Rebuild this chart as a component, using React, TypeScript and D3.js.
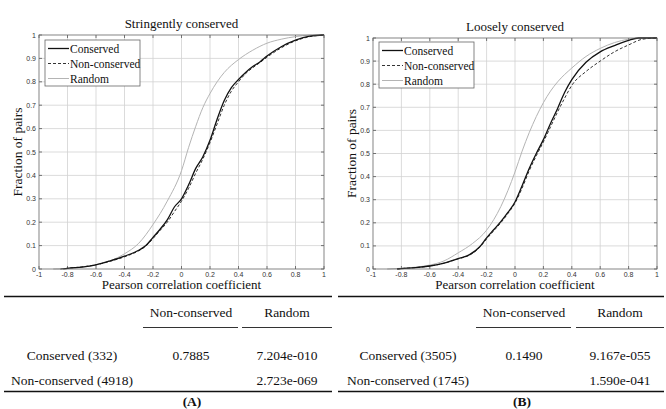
import React from "react";
import * as d3 from "d3";

// ---------- data ----------
const xTicks = [-1, -0.8, -0.6, -0.4, -0.2, 0, 0.2, 0.4, 0.6, 0.8, 1];
const yTicks = [0, 0.1, 0.2, 0.3, 0.4, 0.5, 0.6, 0.7, 0.8, 0.9, 1];
const seriesNames = ["Conserved", "Non-conserved", "Random"];

// Panel A: Stringently conserved
const aConsX = [-0.83, -0.8, -0.7, -0.6, -0.5, -0.4, -0.3, -0.25, -0.2, -0.15, -0.1, -0.05, 0, 0.05, 0.1, 0.15, 0.2, 0.25, 0.3, 0.35, 0.4, 0.45, 0.5, 0.55, 0.6, 0.7, 0.8, 0.9, 1.0];
const aConsY = [0, 0.003, 0.008, 0.018, 0.035, 0.055, 0.08, 0.1, 0.135, 0.17, 0.21, 0.265, 0.3, 0.36, 0.43, 0.48, 0.55, 0.64, 0.72, 0.775, 0.81, 0.84, 0.865, 0.885, 0.91, 0.95, 0.978, 0.995, 1.0];
const aNonX = [-0.85, -0.8, -0.7, -0.6, -0.5, -0.4, -0.3, -0.25, -0.2, -0.15, -0.1, -0.05, 0, 0.05, 0.1, 0.15, 0.2, 0.25, 0.3, 0.35, 0.4, 0.45, 0.5, 0.55, 0.6, 0.7, 0.8, 0.9, 1.0];
const aNonY = [0, 0.003, 0.009, 0.018, 0.033, 0.052, 0.078, 0.098, 0.13, 0.165, 0.2, 0.245, 0.29, 0.345, 0.41, 0.47, 0.54, 0.62, 0.7, 0.76, 0.8, 0.835, 0.86, 0.882, 0.905, 0.945, 0.975, 0.993, 1.0];
const aRandX = [-0.9, -0.8, -0.7, -0.6, -0.5, -0.4, -0.3, -0.2, -0.1, 0, 0.05, 0.1, 0.15, 0.2, 0.25, 0.3, 0.4, 0.5, 0.6, 0.7, 0.8, 0.9, 1.0];
const aRandY = [0, 0.002, 0.008, 0.018, 0.035, 0.065, 0.11, 0.19, 0.29, 0.42, 0.52, 0.61, 0.69, 0.75, 0.8, 0.84, 0.895, 0.935, 0.965, 0.982, 0.993, 0.999, 1.0];

// Panel B: Loosely conserved
const bConsX = [-0.83, -0.8, -0.7, -0.6, -0.5, -0.4, -0.32, -0.25, -0.2, -0.15, -0.1, -0.05, 0, 0.05, 0.1, 0.15, 0.2, 0.25, 0.3, 0.35, 0.4, 0.5, 0.6, 0.7, 0.8, 0.87, 1.0];
const bConsY = [0, 0.002, 0.006, 0.013, 0.025, 0.045, 0.062, 0.095, 0.135, 0.17, 0.205, 0.245, 0.29, 0.36, 0.435, 0.5, 0.56, 0.63, 0.695, 0.765, 0.82, 0.895, 0.94, 0.967, 0.99, 1.0, 1.0];
const bNonX = [-0.83, -0.8, -0.7, -0.6, -0.5, -0.4, -0.32, -0.25, -0.2, -0.15, -0.1, -0.05, 0, 0.05, 0.1, 0.15, 0.2, 0.25, 0.3, 0.35, 0.4, 0.5, 0.6, 0.7, 0.8, 0.9, 1.0];
const bNonY = [0, 0.002, 0.006, 0.013, 0.025, 0.044, 0.06, 0.093, 0.13, 0.165, 0.2, 0.24, 0.285, 0.35, 0.425, 0.49, 0.55, 0.615, 0.68, 0.74, 0.795, 0.855, 0.9, 0.94, 0.97, 0.995, 1.0];
const bRandX = [-0.9, -0.8, -0.7, -0.6, -0.5, -0.4, -0.3, -0.2, -0.1, 0, 0.05, 0.1, 0.15, 0.2, 0.25, 0.3, 0.4, 0.5, 0.6, 0.7, 0.8, 0.9, 1.0];
const bRandY = [0, 0.003, 0.008, 0.017, 0.035, 0.07, 0.11, 0.168, 0.27, 0.42, 0.51, 0.59, 0.66, 0.72, 0.77, 0.81, 0.87, 0.92, 0.955, 0.98, 0.995, 1.0, 1.0];

// Tables
const tableHeaders = ["Non-conserved", "Random"];
const tableARows = ["Conserved (332)", "Non-conserved (4918)"];
const tableAVals = [["0.7885", "7.204e-010"], ["", "2.723e-069"]];
const tableBRows = ["Conserved (3505)", "Non-conserved (1745)"];
const tableBVals = [["0.1490", "9.167e-055"], ["", "1.590e-041"]];

// ---------- styles ----------
const serif = "Liberation Serif, Times New Roman, serif";
const sans = "Liberation Sans, Arial, sans-serif";
const seriesStyle = [
  { stroke: "#111", width: 1.3, dash: "" },
  { stroke: "#333", width: 1.0, dash: "3,2" },
  { stroke: "#b4b4b4", width: 1.0, dash: "" },
];

type PanelProps = {
  title: string;
  x0: number; x1: number; y0: number; y1: number;
  titleY: number;
  series: [number[], number[]][];
  legendY: number;
  ylabelX: number;
};

function Panel({ title, x0, x1, y0, y1, titleY, series, legendY, ylabelX }: PanelProps) {
  const x = d3.scaleLinear().domain([-1, 1]).range([x0, x1]);
  const y = d3.scaleLinear().domain([0, 1]).range([y1, y0]);
  const line = d3.line<[number, number]>().x((d) => x(d[0])).y((d) => y(d[1])).curve(d3.curveMonotoneX);
  const lgX = x0 + 6;
  const lgW = 95;
  const lgH = 46;
  const fmt = (t: number) => String(+t.toFixed(1));
  return (
    <g>
      <rect x={x0} y={y0} width={x1 - x0} height={y1 - y0} fill="#fff" />
      {xTicks.slice(1, -1).map((t) => (
        <line key={"gx" + t} x1={x(t)} x2={x(t)} y1={y0} y2={y1} stroke="#d2d2d2" strokeWidth={0.8} />
      ))}
      {yTicks.slice(1, -1).map((t) => (
        <line key={"gy" + t} x1={x0} x2={x1} y1={y(t)} y2={y(t)} stroke="#d2d2d2" strokeWidth={0.8} />
      ))}
      {xTicks.map((t) => (
        <g key={"tx" + t}>
          <line x1={x(t)} x2={x(t)} y1={y1} y2={y1 - 3} stroke="#555" strokeWidth={0.8} />
          <line x1={x(t)} x2={x(t)} y1={y0} y2={y0 + 3} stroke="#555" strokeWidth={0.8} />
          <text x={x(t)} y={y1 + 8} textAnchor="middle" fontFamily={sans} fontSize={7} fill="#333">
            {fmt(t)}
          </text>
        </g>
      ))}
      {yTicks.map((t) => (
        <g key={"ty" + t}>
          <line x1={x0} x2={x0 + 3} y1={y(t)} y2={y(t)} stroke="#555" strokeWidth={0.8} />
          <line x1={x1} x2={x1 - 3} y1={y(t)} y2={y(t)} stroke="#555" strokeWidth={0.8} />
          <text x={x0 - 3} y={y(t) + 2.5} textAnchor="end" fontFamily={sans} fontSize={7} fill="#333">
            {fmt(t)}
          </text>
        </g>
      ))}
      {[2, 1, 0].map((i) => {
        const [xs, ys] = series[i];
        const pts = xs.map((v, k) => [v, ys[k]] as [number, number]);
        const s = seriesStyle[i];
        return (
          <path key={"s" + i} d={line(pts) || ""} fill="none" stroke={s.stroke}
            strokeWidth={s.width} strokeDasharray={s.dash || undefined} />
        );
      })}
      <rect x={x0} y={y0} width={x1 - x0} height={y1 - y0} fill="none" stroke="#666" strokeWidth={0.8} />
      <rect x={lgX} y={legendY} width={lgW} height={lgH} fill="#fff" stroke="#666" strokeWidth={0.8} />
      {seriesNames.map((n, i) => {
        const ly = legendY + 8.5 + i * 15;
        const s = seriesStyle[i];
        return (
          <g key={"lg" + n}>
            <line x1={lgX + 3} x2={lgX + 24} y1={ly} y2={ly} stroke={s.stroke} strokeWidth={s.width}
              strokeDasharray={s.dash || undefined} />
            <text x={lgX + 25} y={ly + 4} fontFamily={serif} fontSize={11.5} fill="#111">{n}</text>
          </g>
        );
      })}
      <text x={(x0 + x1) / 2} y={titleY} textAnchor="middle" fontFamily={serif} fontSize={13} fill="#111">{title}</text>
      <text x={(x0 + x1) / 2} y={y1 + 20} textAnchor="middle" fontFamily={serif} fontSize={13} fill="#111">
        Pearson correlation coefficient
      </text>
      <text transform={`translate(${ylabelX},${(y0 + y1) / 2}) rotate(-90)`} textAnchor="middle"
        fontFamily={serif} fontSize={13.5} fill="#111">Fraction of pairs</text>
    </g>
  );
}

type TableProps = {
  left: number; right: number;
  labelCx: number; c1: number; c2: number;
  seg1: [number, number]; seg2: [number, number];
  rows: string[]; vals: string[][]; tag: string; tagX: number;
};

function StatTable({ left, right, labelCx, c1, c2, seg1, seg2, rows, vals, tag, tagX }: TableProps) {
  const fs = 13.5;
  const rowY = [360, 385];
  return (
    <g fontFamily={serif} fontSize={fs} fill="#111">
      <line x1={left} x2={right} y1={296.5} y2={296.5} stroke="#111" strokeWidth={1.4} />
      <text x={c1} y={317} textAnchor="middle">{tableHeaders[0]}</text>
      <text x={c2} y={317} textAnchor="middle">{tableHeaders[1]}</text>
      <line x1={seg1[0]} x2={seg1[1]} y1={327.5} y2={327.5} stroke="#333" strokeWidth={1} />
      <line x1={seg2[0]} x2={seg2[1]} y1={327.5} y2={327.5} stroke="#333" strokeWidth={1} />
      {rows.map((r, i) => (
        <g key={r}>
          <text x={labelCx} y={rowY[i]} textAnchor="middle">{r}</text>
          <text x={c1} y={rowY[i]} textAnchor="middle">{vals[i][0]}</text>
          <text x={c2} y={rowY[i]} textAnchor="middle">{vals[i][1]}</text>
        </g>
      ))}
      <line x1={left} x2={right} y1={391.5} y2={391.5} stroke="#111" strokeWidth={1.4} />
      <text x={tagX} y={406} textAnchor="middle" fontWeight="bold">{tag}</text>
    </g>
  );
}

export default function App() {
  return (
    <svg width={666} height={409} style={{ position: "absolute", left: 0, top: 0, background: "#fff" }}>
      <rect width={666} height={409} fill="#fff" />
      <Panel title="Stringently conserved" x0={39} x1={324} y0={35} y1={269} titleY={28}
        series={[[aConsX, aConsY], [aNonX, aNonY], [aRandX, aRandY]]} legendY={40} ylabelX={22} />
      <Panel title="Loosely conserved" x0={373} x1={657} y0={38} y1={269} titleY={31}
        series={[[bConsX, bConsY], [bNonX, bNonY], [bRandX, bRandY]]} legendY={42} ylabelX={356} />
      <StatTable left={4} right={332} labelCx={72} c1={191} c2={287} seg1={[143, 238]} seg2={[242, 332]}
        rows={tableARows} vals={tableAVals} tag="(A)" tagX={192} />
      <StatTable left={338} right={664} labelCx={408} c1={524} c2={620} seg1={[476, 571]} seg2={[576, 664]}
        rows={tableBRows} vals={tableBVals} tag="(B)" tagX={522} />
    </svg>
  );
}
